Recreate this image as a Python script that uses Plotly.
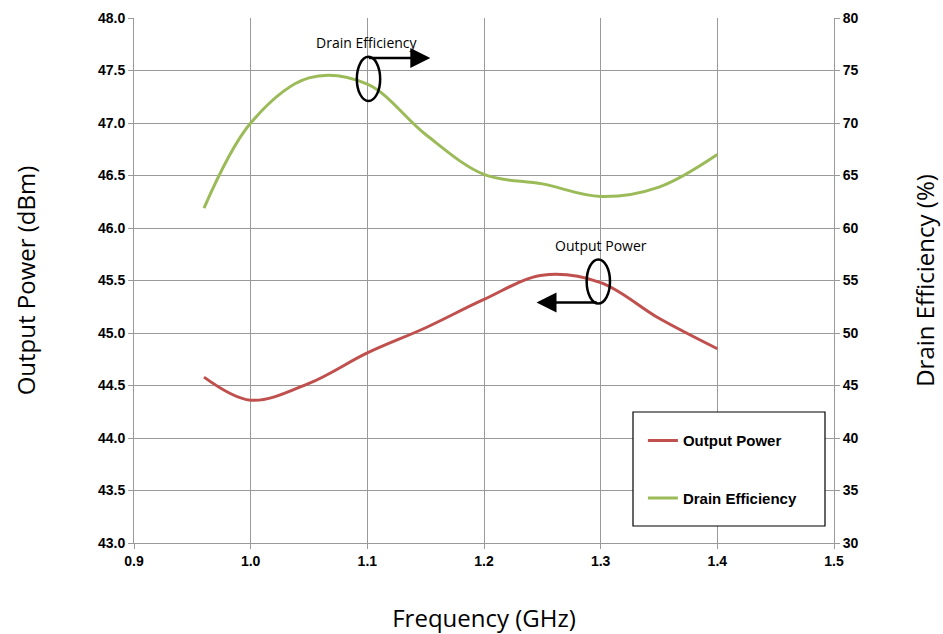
import plotly.graph_objects as go

freq = [0.96, 1.0, 1.05, 1.1, 1.15, 1.2, 1.25, 1.3, 1.35, 1.4]
output_power = [44.58, 44.36, 44.52, 44.81, 45.05, 45.32, 45.55, 45.48, 45.14, 44.85]
drain_eff = [61.9, 70.0, 74.3, 73.7, 68.9, 65.1, 64.2, 63.0, 63.9, 67.0]

RED = "#C0504D"
GREEN = "#9BBB59"
GRID = "#9a9a9a"
TICKFONT = dict(family="Liberation Sans, Arial", size=14, color="black", weight="bold")
TITLEFONT = dict(family="Open Sans", size=24, color="black")

fig = go.Figure()
fig.add_trace(go.Scatter(x=freq, y=output_power, name="Output Power", mode="lines",
                         line=dict(color=RED, width=3, shape="spline", smoothing=1.0),
                         legendgroup="a", yaxis="y"))
fig.add_trace(go.Scatter(x=freq, y=drain_eff, name="Drain Efficiency", mode="lines",
                         line=dict(color=GREEN, width=3, shape="spline", smoothing=1.0),
                         legendgroup="b", yaxis="y2"))

fig.update_layout(
    width=943, height=634,
    margin=dict(l=134, r=109, t=18, b=91),
    paper_bgcolor="white", plot_bgcolor="white",
    showlegend=True,
    xaxis=dict(range=[0.9, 1.5], dtick=0.1, tick0=0.9, tickformat=".1f",
               showgrid=True, gridcolor=GRID, gridwidth=1, automargin=False,
               showline=True, linecolor=GRID, linewidth=1,
               ticks="outside", ticklen=5, tickcolor=GRID,
               tickfont=TICKFONT, zeroline=False,
               title=dict(text="Frequency (GHz)", font=TITLEFONT, standoff=43)),
    yaxis=dict(range=[43, 48], dtick=0.5, tick0=43, tickformat=".1f",
               showgrid=True, gridcolor=GRID, gridwidth=1, automargin=False,
               showline=True, linecolor=GRID, linewidth=1,
               ticks="outside", ticklen=5, tickcolor=GRID,
               tickfont=TICKFONT, zeroline=False,
               title=dict(text="Output Power (dBm)", font=TITLEFONT, standoff=55)),
    yaxis2=dict(range=[30, 80], dtick=5, tick0=30, overlaying="y", side="right",
                showgrid=False, showline=True, linecolor=GRID, linewidth=1,
                ticks="outside", ticklen=5, tickcolor=GRID, automargin=False,
                tickfont=TICKFONT, zeroline=False,
                title=dict(text="Drain Efficiency (%)", font=TITLEFONT, standoff=59)),
    legend=dict(x=0.727, y=0.226, xanchor="left", yanchor="top",
                bgcolor="rgba(0,0,0,0)", borderwidth=0,
                font=dict(family="Liberation Sans, Arial", size=15, color="black", weight="bold"),
                traceorder="grouped", tracegroupgap=35,
                itemwidth=30),
)

# legend frame
fig.add_shape(type="rect", xref="paper", yref="paper",
              x0=(633 - 134) / 700, x1=(825 - 134) / 700,
              y0=(543 - 526) / 525, y1=(543 - 412) / 525,
              line=dict(color="black", width=1.2), fillcolor="white", layer="above")

# Drain efficiency marker
fig.add_shape(type="circle", xref="x", yref="y", x0=1.091, x1=1.111, y0=47.21, y1=47.63,
              line=dict(color="black", width=2.5))
fig.add_annotation(x=1.154, y=47.62, ax=1.1, ay=47.62, xref="x", yref="y",
                   axref="x", ayref="y", text="", showarrow=True,
                   arrowhead=2, arrowsize=1.6, arrowwidth=2.5, arrowcolor="black")
fig.add_annotation(x=1.1, y=47.77, xref="x", yref="y", text="Drain Efficiency",
                   showarrow=False, font=dict(family="Open Sans", size=14, color="black"))

# Output power marker
fig.add_shape(type="circle", xref="x", yref="y", x0=1.288, x1=1.308, y0=45.28, y1=45.70,
              line=dict(color="black", width=2.5))
fig.add_annotation(x=1.245, y=45.29, ax=1.298, ay=45.29, xref="x", yref="y",
                   axref="x", ayref="y", text="", showarrow=True,
                   arrowhead=2, arrowsize=1.6, arrowwidth=2.5, arrowcolor="black")
fig.add_annotation(x=1.3, y=45.83, xref="x", yref="y", text="Output Power",
                   showarrow=False, font=dict(family="Open Sans", size=14, color="black"))

fig.write_html("out.html")
